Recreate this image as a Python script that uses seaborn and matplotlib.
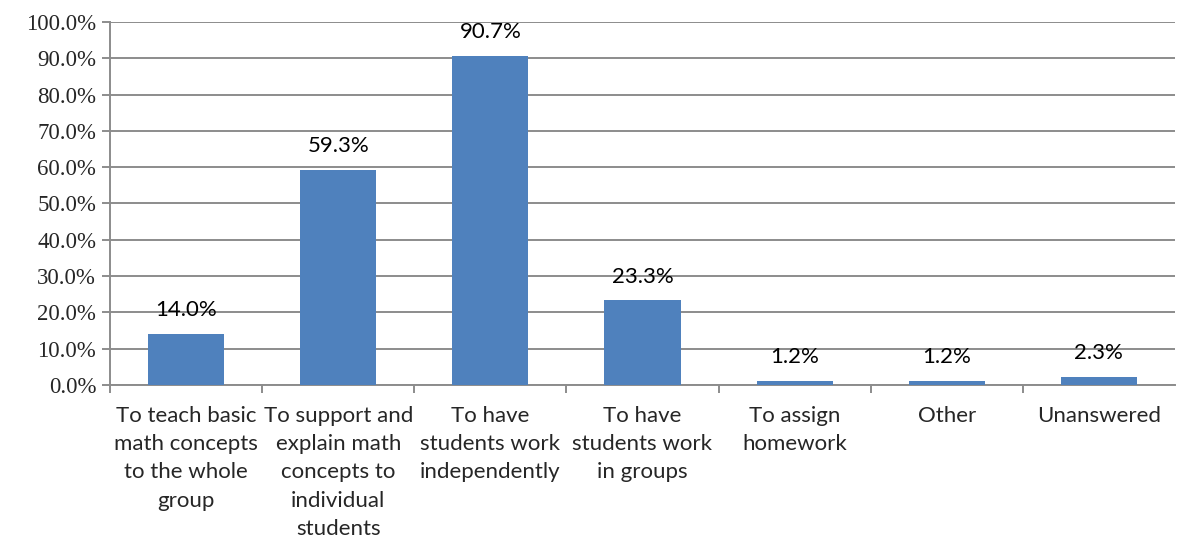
import matplotlib
matplotlib.use("Agg")
import matplotlib.pyplot as plt
import seaborn as sns
import pandas as pd
from matplotlib.ticker import FixedLocator

categories = [
    "To teach basic\nmath concepts\nto the whole\ngroup",
    "To support and\nexplain math\nconcepts to\nindividual\nstudents",
    "To have\nstudents work\nindependently",
    "To have\nstudents work\nin groups",
    "To assign\nhomework",
    "Other",
    "Unanswered",
]
values = [14.0, 59.3, 90.7, 23.3, 1.2, 1.2, 2.3]
y_ticks = [0, 10, 20, 30, 40, 50, 60, 70, 80, 90, 100]

sns.set_theme(style="white")
df = pd.DataFrame({"cat": categories, "val": values})

fig = plt.figure(figsize=(11.78, 5.41), dpi=100)
ax = fig.add_axes([0.0934, 0.2884, 0.904, 0.671])
sns.barplot(data=df, x="cat", y="val", color="#4F81BD", saturation=1, width=0.5,
            linewidth=0, ax=ax, zorder=3)

ax.set_ylim(0, 100)
ax.set_xlim(-0.5, len(categories) - 0.5)
ax.set_yticks(y_ticks)
ax.set_yticklabels([f"{v:.1f}%" for v in y_ticks], family="Liberation Serif", fontsize=16.5)
ax.yaxis.grid(True, color="#8c8c8c", linewidth=1.4, zorder=0)
ax.set_axisbelow(True)
ax.set_xlabel("")
ax.set_ylabel("")

for s in ["top", "right"]:
    ax.spines[s].set_visible(False)
for s in ["left", "bottom"]:
    ax.spines[s].set_color("#8c8c8c")
    ax.spines[s].set_linewidth(1.4)

ax.tick_params(axis="y", which="major", length=6, width=1.4, color="#8c8c8c", left=True, pad=4)
ax.tick_params(axis="x", which="major", length=0, pad=15)
ax.xaxis.set_minor_locator(FixedLocator([i + 0.5 for i in range(len(categories) - 1)] + [-0.5]))
ax.tick_params(axis="x", which="minor", length=6, width=1.4, color="#8c8c8c", bottom=True)
for lbl in ax.get_xticklabels():
    lbl.set_family("Lato")
    lbl.set_fontsize(16)
    lbl.set_linespacing(1.52)
    lbl.set_verticalalignment("top")

for i, v in enumerate(values):
    ax.annotate(f"{v:.1f}%", (i, v), xytext=(0, 10), textcoords="offset points",
                ha="center", va="bottom", family="Lato", fontsize=16, color="black")

fig.savefig("out.png", dpi=100)
